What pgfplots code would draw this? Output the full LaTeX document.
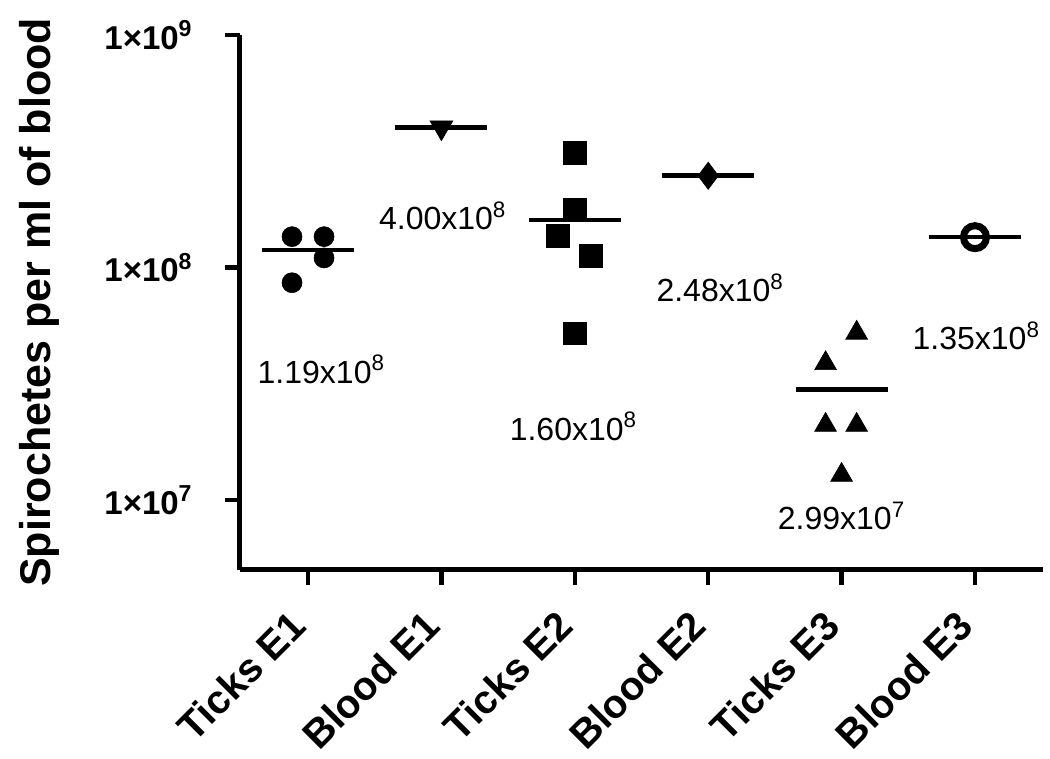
\documentclass[border=0pt]{standalone}
\usepackage{fontspec}
\setmainfont{Liberation Sans}
\usepackage{pgfplots}
\pgfplotsset{compat=1.18}
\begin{document}
\begin{tikzpicture}
\path[use as bounding box] (-120pt,-94.5pt) rectangle (405pt,285pt);
\begin{axis}[
  scale only axis,
  width=401.5pt, height=267.5pt,
  at={(0,0)}, anchor=south west,
  ymode=log,
  xmin=-0.51, xmax=5.51,
  ymin=5e6, ymax=1e9,
  axis x line*=bottom, axis y line*=left,
  axis line style={line width=2.5pt, -},
  every tick/.style={line width=2.3pt, black},
  tick align=outside,
  major tick length=7.5pt,
  yminorticks=false,
  xtick={0,1,2,3,4,5},
  xticklabels={Ticks E1,Blood E1,Ticks E2,Blood E2,Ticks E3,Blood E3},
  ytick={1e7,1e8,1e9},
  yticklabels={1×10\textsuperscript{7},1×10\textsuperscript{8},1×10\textsuperscript{9}},
  yticklabel style={font=\fontsize{16.5}{19}\selectfont\bfseries, anchor=east, inner sep=0pt, xshift=-16pt},
  xticklabel style={font=\fontsize{20}{24}\selectfont\bfseries, xshift=-4.7pt, yshift=-16.7pt, rotate=45, anchor=east, inner sep=0pt},
  ylabel={Spirochetes per ml of blood},
  every axis y label/.style={at={(axis description cs:-0.2366,0.5)}, rotate=90, anchor=base, font=\fontsize{21.5}{25}\selectfont\bfseries},
  clip=false,
]
% Ticks E1
\addplot[only marks, mark=*, mark size=5pt, mark options={line width=0.3pt, fill=black}] coordinates {
  (-0.12,1.357e8) (0.12,1.357e8) (0.12,1.099e8) (-0.12,8.6e7)};
\addplot[line width=2.3pt] coordinates {(-0.345,1.19e8) (0.345,1.19e8)};
% Blood E1
\addplot[line width=2.3pt] coordinates {(0.655,4.00e8) (1.345,4.00e8)};
\addplot[only marks, mark=triangle*, mark size=6.6pt, mark options={rotate=180, line width=0.3pt, fill=black}] coordinates {(1,4.00e8)};
% Ticks E2
\addplot[only marks, mark=square*, mark size=5.7pt, mark options={line width=0.3pt, fill=black}] coordinates {
  (2,3.12e8) (2,1.77e8) (1.875,1.37e8) (2.12,1.124e8) (2,5.21e7)};
\addplot[line width=2.3pt] coordinates {(1.655,1.60e8) (2.345,1.60e8)};
% Blood E2
\addplot[line width=2.3pt] coordinates {(2.655,2.48e8) (3.345,2.48e8)};
\addplot[only marks, mark=diamond*, mark size=6.8pt, mark options={line width=0.3pt, fill=black}] coordinates {(3,2.48e8)};
% Ticks E3
\addplot[only marks, mark=triangle*, mark size=6.3pt, mark options={line width=0.3pt, fill=black}] coordinates {
  (4.113,5.23e7) (3.88,3.87e7) (3.88,2.10e7) (4.113,2.10e7) (4,1.28e7)};
\addplot[line width=2.3pt] coordinates {(3.655,2.99e7) (4.345,2.99e7)};
% Blood E3
\addplot[line width=2.3pt] coordinates {(4.655,1.35e8) (5.345,1.35e8)};
\addplot[only marks, mark=o, mark size=5.75pt, mark options={line width=3.5pt}] coordinates {(5,1.35e8)};
% value labels
\begin{scope}[every node/.style={font=\fontsize{16}{19}\selectfont, anchor=base, inner sep=0pt}]
\node at (axis cs:0.10,3.185e7) {1.19x10\textsuperscript{8}};
\node at (axis cs:1.01,1.45e8) {4.00x10\textsuperscript{8}};
\node at (axis cs:1.99,1.81e7) {1.60x10\textsuperscript{8}};
\node at (axis cs:3.09,7.11e7) {2.48x10\textsuperscript{8}};
\node at (axis cs:5.01,4.42e7) {1.35x10\textsuperscript{8}};
\node at (axis cs:4.00,7.43e6) {2.99x10\textsuperscript{7}};
\end{scope}
\end{axis}
\end{tikzpicture}
\end{document}
